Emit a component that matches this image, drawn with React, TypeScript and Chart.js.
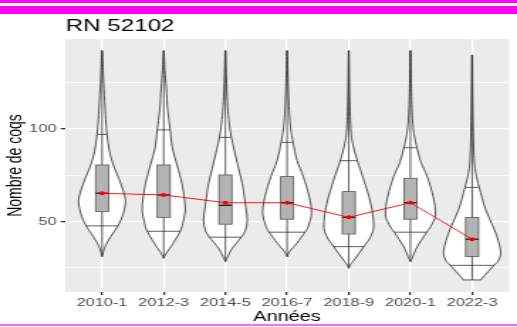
import React, { useEffect, useRef } from 'react';
import { Chart, registerables } from 'chart.js';

Chart.register(...registerables);

// ---------- data ----------
const chartTitle = 'RN 52102';
const xTitle = 'Années';
const yTitle = 'Nombre de coqs';
const categories = ['2010-1', '2012-3', '2014-5', '2016-7', '2018-9', '2020-1', '2022-3'];
const yMajorTicks = [50, 100];
const yMinorTicks = [25, 75, 125];

const means = [65.3, 64.4, 60.2, 60.2, 52.3, 60.2, 40.5];
const medians = [65.3, 64.4, 58.8, 60.2, 52.3, 60.2, 40.5];
const q1 = [55.4, 52.3, 48.6, 51.3, 43.3, 51.3, 31.1];
const q3 = [80.6, 80.6, 75.2, 74.3, 66.2, 73.4, 52.3];
const mins = [31.1, 30.2, 28.4, 31.1, 24.8, 28.4, 18.5];
const maxs = [142.3, 142.3, 142.3, 142.3, 142.3, 142.3, 140.0];
const p10 = [47.7, 44.8, 41.6, 44.3, 36.5, 44.3, 26.4];
const p90 = [97.1, 99.5, 95.5, 92.8, 82.9, 89.9, 68.5];

// violin density profiles (value levels and relative density, 1 = widest violin)
const dens2010Y = [31.1, 34, 37, 42, 47.7, 53, 57, 61, 66, 73, 80, 88, 97, 105, 118, 130, 142.3];
const dens2010D = [0, 0.05, 0.12, 0.31, 0.56, 0.72, 0.79, 0.83, 0.76, 0.6, 0.41, 0.26, 0.175, 0.13, 0.08, 0.04, 0.01];
const dens2012Y = [30.2, 32.9, 38.3, 44.8, 49.1, 56.3, 63, 70.7, 80.6, 90, 99.5, 110, 122, 132, 142.3];
const dens2012D = [0, 0.09, 0.33, 0.58, 0.67, 0.76, 0.72, 0.64, 0.47, 0.3, 0.23, 0.14, 0.09, 0.04, 0.01];
const dens2014Y = [28.4, 31, 35.6, 41.6, 45.5, 50.9, 56.3, 63, 70.7, 81.5, 95.5, 105, 114.7, 128, 142.3];
const dens2014D = [0, 0.08, 0.24, 0.56, 0.71, 0.77, 0.73, 0.67, 0.59, 0.42, 0.21, 0.12, 0.07, 0.035, 0.01];
const dens2016Y = [31.1, 34, 38.3, 44.3, 47.3, 54.5, 63.5, 74.3, 83, 92.8, 100, 108.5, 125, 142.3];
const dens2016D = [0, 0.1, 0.34, 0.63, 0.74, 0.86, 0.78, 0.57, 0.35, 0.21, 0.13, 0.08, 0.035, 0.01];
const dens2018Y = [24.8, 27, 29.3, 36.5, 41.9, 48.2, 59.9, 72.5, 82.9, 92, 100.4, 120, 142.3];
const dens2018D = [0, 0.07, 0.19, 0.53, 0.77, 0.88, 0.77, 0.53, 0.3, 0.14, 0.07, 0.03, 0.01];
const dens2020Y = [28.4, 31, 36.5, 44.3, 47.3, 53.6, 63.5, 74.3, 82, 89.9, 97, 105.8, 122, 142.3];
const dens2020D = [0, 0.08, 0.24, 0.57, 0.71, 0.88, 0.8, 0.59, 0.37, 0.23, 0.13, 0.07, 0.03, 0.01];
const dens2022Y = [18.5, 20.3, 26.4, 29.3, 34.7, 45.5, 56.3, 68.5, 76, 84.2, 100, 120, 140];
const dens2022D = [0.31, 0.4, 0.77, 0.94, 1.0, 0.79, 0.48, 0.25, 0.13, 0.07, 0.04, 0.02, 0.01];

const violinY = [dens2010Y, dens2012Y, dens2014Y, dens2016Y, dens2018Y, dens2020Y, dens2022Y];
const violinD = [dens2010D, dens2012D, dens2014D, dens2016D, dens2018D, dens2020D, dens2022D];

// ---------- presentation ----------
const W = 517;
const H = 327;
const SX = 1.42; // horizontal stretch of the reference picture
const IW = Math.round(W / SX);
const FONT = "'Liberation Sans', Arial, Helvetica, sans-serif";
const HALF = 0.46;
const BOX_HALF = 0.105;

function densAt(ys: number[], ds: number[], v: number) {
  if (v <= ys[0]) return ds[0];
  for (let k = 1; k < ys.length; k++) {
    if (v <= ys[k]) {
      const t = (v - ys[k - 1]) / (ys[k] - ys[k - 1]);
      return ds[k - 1] + t * (ds[k] - ds[k - 1]);
    }
  }
  return ds[ds.length - 1];
}

function smoothPath(ctx: CanvasRenderingContext2D, pts: { x: number; y: number }[], moveFirst: boolean) {
  if (moveFirst) ctx.moveTo(pts[0].x, pts[0].y);
  else ctx.lineTo(pts[0].x, pts[0].y);
  for (let i = 0; i < pts.length - 1; i++) {
    const p0 = pts[Math.max(0, i - 1)];
    const p1 = pts[i];
    const p2 = pts[i + 1];
    const p3 = pts[Math.min(pts.length - 1, i + 2)];
    const c1x = p1.x + (p2.x - p0.x) / 6;
    const c1y = p1.y + (p2.y - p0.y) / 6;
    const c2x = p2.x - (p3.x - p1.x) / 6;
    const c2y = p2.y - (p3.y - p1.y) / 6;
    ctx.bezierCurveTo(c1x, c1y, c2x, c2y, p2.x, p2.y);
  }
}

export default function App() {
  const ref = useRef<HTMLCanvasElement>(null);

  useEffect(() => {
    const canvas = ref.current;
    if (!canvas) return;

    const violinPlugin = {
      id: 'violins',
      beforeDraw(chart: any) {
        const { ctx, chartArea: a } = chart;
        ctx.save();
        ctx.fillStyle = '#EBEBEB';
        ctx.fillRect(a.left, a.top, a.right - a.left, a.bottom - a.top);
        ctx.restore();
      },
      beforeDatasetsDraw(chart: any) {
        const ctx: CanvasRenderingContext2D = chart.ctx;
        const xs = chart.scales.x;
        const ys = chart.scales.y;
        const unit = xs.getPixelForValue(1) - xs.getPixelForValue(0);
        ctx.save();
        categories.forEach((_, i) => {
          const cx = xs.getPixelForValue(i);
          const vy = violinY[i];
          const vd = violinD[i];
          const right = vy.map((v, k) => ({ x: cx + vd[k] * HALF * unit, y: ys.getPixelForValue(v) }));
          const left = vy.map((v, k) => ({ x: cx - vd[k] * HALF * unit, y: ys.getPixelForValue(v) })).reverse();
          ctx.beginPath();
          smoothPath(ctx, right, true);
          smoothPath(ctx, left, false);
          ctx.closePath();
          ctx.fillStyle = '#FFFFFF';
          ctx.fill();
          ctx.strokeStyle = '#333333';
          ctx.lineWidth = 0.85;
          ctx.stroke();

          // quantile lines
          [p10[i], p90[i]].forEach((q) => {
            const w = densAt(vy, vd, q) * HALF * unit;
            const y = ys.getPixelForValue(q);
            ctx.beginPath();
            ctx.moveTo(cx - w, y);
            ctx.lineTo(cx + w, y);
            ctx.strokeStyle = '#333333';
            ctx.lineWidth = 0.8;
            ctx.stroke();
          });

          // min-max line
          ctx.beginPath();
          ctx.moveTo(cx, ys.getPixelForValue(mins[i]));
          ctx.lineTo(cx, ys.getPixelForValue(maxs[i]));
          ctx.strokeStyle = '#333333';
          ctx.lineWidth = 0.8;
          ctx.stroke();

          // box
          const bl = cx - BOX_HALF * unit;
          const br = cx + BOX_HALF * unit;
          const bt = ys.getPixelForValue(q3[i]);
          const bb = ys.getPixelForValue(q1[i]);
          ctx.fillStyle = '#B3B3B3';
          ctx.fillRect(bl, bt, br - bl, bb - bt);
          ctx.strokeStyle = '#595959';
          ctx.lineWidth = 0.8;
          ctx.strokeRect(bl, bt, br - bl, bb - bt);
          const my = ys.getPixelForValue(medians[i]);
          ctx.beginPath();
          ctx.moveTo(bl, my);
          ctx.lineTo(br, my);
          ctx.strokeStyle = '#262626';
          ctx.lineWidth = 1.4;
          ctx.stroke();
        });
        ctx.restore();
      },
      afterDraw(chart: any) {
        const { ctx, chartArea: a } = chart;
        ctx.save();
        ctx.fillStyle = '#000000';
        ctx.font = `17px ${FONT}`;
        ctx.textBaseline = 'alphabetic';
        ctx.textAlign = 'left';
        ctx.fillText(chartTitle, a.left + 0.5, 31);
        ctx.restore();
      },
    };

    const isMajor = (ctx: any) => ctx.tick && yMajorTicks.includes(ctx.tick.value);

    const chart = new Chart(canvas, {
      type: 'line',
      data: {
        datasets: [
          {
            data: means.map((m, i) => ({ x: i, y: m })),
            borderColor: '#FF0000',
            backgroundColor: '#FF0000',
            borderWidth: 0.9,
            pointRadius: 2,
            pointBorderWidth: 0,
            pointBackgroundColor: '#FF0000',
            tension: 0,
          },
        ],
      },
      options: {
        responsive: false,
        animation: false,
        devicePixelRatio: 1,
        layout: { padding: { left: 0, right: IW - 509 / SX, top: 39, bottom: 0 } },
        plugins: { legend: { display: false }, tooltip: { enabled: false }, title: { display: false } },
        scales: {
          x: {
            type: 'linear',
            min: -0.6,
            max: categories.length - 1 + 0.6,
            afterBuildTicks: (s: any) => {
              s.ticks = categories.map((_, i) => ({ value: i }));
            },
            afterFit: (s: any) => {
              s.height = H - 292;
            },
            ticks: {
              callback: (v: any) => categories[v] ?? '',
              color: '#4D4D4D',
              font: { family: FONT, size: 11.5 },
              padding: 1,
              autoSkip: false,
              maxRotation: 0,
            },
            grid: { color: '#FFFFFF', lineWidth: 1.3, tickColor: '#333333', tickLength: 3 },
            border: { display: false },
            title: {
              display: true,
              text: xTitle,
              color: '#000000',
              font: { family: FONT, size: 14 },
              padding: { top: 0, bottom: 1.5 },
            },
          },
          y: {
            type: 'linear',
            min: 12,
            max: 148.6,
            afterBuildTicks: (s: any) => {
              s.ticks = [...yMinorTicks, ...yMajorTicks].sort((a, b) => a - b).map((v) => ({ value: v }));
            },
            afterFit: (s: any) => {
              s.width = 65 / SX;
            },
            ticks: {
              callback: (v: any) => (yMajorTicks.includes(v) ? String(v) : ''),
              color: '#4D4D4D',
              font: { family: FONT, size: 11.5 },
              padding: 3,
            },
            grid: {
              color: '#FFFFFF',
              lineWidth: (ctx: any) => (isMajor(ctx) ? 1.3 : 0.65),
              tickColor: (ctx: any) => (isMajor(ctx) ? '#333333' : 'rgba(0,0,0,0)'),
              tickLength: 3,
            },
            border: { display: false },
            title: {
              display: true,
              text: yTitle,
              color: '#000000',
              font: { family: FONT, size: 14 },
              padding: { top: 2.5, bottom: 0 },
            },
          },
        },
      },
      plugins: [violinPlugin],
    } as any);

    return () => chart.destroy();
  }, []);

  return (
    <div style={{ position: 'absolute', left: 0, top: 0, width: W, height: H, background: '#FFFFFF', overflow: 'hidden' }}>
      <canvas
        ref={ref}
        width={IW}
        height={H}
        style={{ width: `${W}px`, height: `${H}px`, display: 'block' }}
      />
      <div style={{ position: 'absolute', left: 0, top: 0, width: W, height: 2.5, background: '#FF00FF' }} />
      <div style={{ position: 'absolute', left: 0, top: 6, width: W, height: 7.5, background: '#FF00FF' }} />
      <div style={{ position: 'absolute', left: 0, top: 324, width: W, height: 2, background: '#FF66FF' }} />
    </div>
  );
}
